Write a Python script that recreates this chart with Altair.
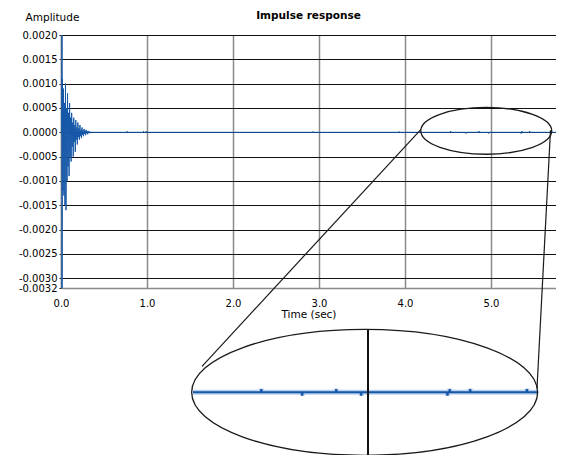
import altair as alt
import pandas as pd

# ---------------- data ----------------
# direct-sound spike
head_t = [0.0, 0.008, 0.011, 0.012]
head_a = [0.0, 0.0, 0.0020, -0.0032]
# early ringing, one sample every 6 ms from 16 ms (values in 1e-4)
ring_t0 = 0.016
ring_dt = 0.006
ring_a_e4 = [11, -12, 9, -13, 6, -15, 10, -16, 5, -10, 8, -7, 4, -9, 6, -5,
             3, -6, 4, -3, 2, -5, 3, -2, 1.5, -4, 2.5, -1.5, 1, -2.5, 2, -1,
             0.8, -1.5, 1.5, -0.8, 0.5, -1.2, 1, -0.5, 0.4, -0.8, 0.7, -0.3,
             0.3, -0.6, 0.5, -0.2, 0.2, -0.4, 0.3, -0.1, 0.1, -0.2, 0.15, -0.1,
             0.05, 0]
# tiny late reflections (values in 1e-5)
blip_t = [0.77, 0.96, 0.99, 2.93, 3.93, 4.53, 4.71, 4.86, 4.97, 5.35, 5.36, 5.45, 5.70]
blip_a_e5 = [2, 2, 2, 1.5, 1.5, 2.5, -2.5, 2.5, -2.5, -2.5, 2.5, 2.5, 2.5]
blip_half = 0.003
window_t = [4.229, 5.749]      # magnified window
end_t = 5.756

x_ticks = [0, 1, 2, 3, 4, 5]
y_ticks = [0.0020, 0.0015, 0.0010, 0.0005, 0.0, -0.0005, -0.0010, -0.0015,
           -0.0020, -0.0025, -0.0030, -0.0032]

# magnifier annotation (data units of the main axes)
zoom_factor = 2.64
zoom_ref_t = 5.0          # grid line shown in the magnifier
inset_ref_t = 3.57        # where that grid line is drawn in the magnifier
inset_center_a = -0.005344
inset_line_a = [-0.00405, -0.00664]
ellipse_t = [4.945, 3.531]
ellipse_a = [0.00003, -0.005344]
ellipse_size = [17161, 119716]
ellipse_shape = [
    "M-1,0C-1,-0.197 -0.552,-0.357 0,-0.357C0.552,-0.357 1,-0.197 1,0C1,0.197 0.552,0.357 0,0.357C-0.552,0.357 -1,0.197 -1,0Z",
    "M-1,0C-1,-0.201 -0.552,-0.364 0,-0.364C0.552,-0.364 1,-0.201 1,0C1,0.201 0.552,0.364 0,0.364C-0.552,0.364 -1,0.201 -1,0Z",
]
conn_t = [4.186, 5.692]
conn_a = [0.0000617, 0.0000411]
conn_t2 = [1.640, 5.535]
conn_a2 = [-0.00481, -0.00526]

# ---------------- tables ----------------
rows = list(zip(head_t, head_a))
rows += [(ring_t0 + i * ring_dt, v * 1e-4) for i, v in enumerate(ring_a_e4)]
for t, v in zip(blip_t, blip_a_e5):
    rows += [(t - blip_half, 0.0), (t, v * 1e-5), (t + blip_half, 0.0)]
rows += [(w, 0.0) for w in window_t] + [(end_t, 0.0)]
wave = pd.DataFrame(rows, columns=["t", "a"]).sort_values("t").reset_index(drop=True)

inset = wave[(wave.t >= window_t[0]) & (wave.t <= window_t[1])].copy()
inset["t"] = inset_ref_t + (inset["t"] - zoom_ref_t) * zoom_factor
inset["a"] = inset_center_a + inset["a"] * zoom_factor

ell = pd.DataFrame({"t": ellipse_t, "a": ellipse_a, "size": ellipse_size, "shape": ellipse_shape})
conn = pd.DataFrame({"t": conn_t, "a": conn_a, "t2": conn_t2, "a2": conn_a2})
vline = pd.DataFrame({"t": [inset_ref_t], "a": [inset_line_a[0]], "a2": [inset_line_a[1]]})

FONT = "DejaVu Sans"
BLUE = "#1557a8"

xs = alt.Scale(domain=[0, end_t], nice=False, zero=False)
ys = alt.Scale(domain=[-0.0032, 0.0020], nice=False, zero=False)

x_axis = alt.Axis(
    values=x_ticks, format=".1f", title="Time (sec)", grid=True,
    gridColor="#8a8a8a", gridWidth=1.5, ticks=False, labelPadding=10,
    labelFlush=False, domainColor="#8a8a8a", domainWidth=1.5,
    titleY=26, titleBaseline="middle", labelFont=FONT, titleFont=FONT,
    labelFontSize=10, titleFontSize=10.5, titleFontWeight="normal",
    labelColor="#000", titleColor="#000")
y_axis = alt.Axis(
    values=y_ticks, format=".4f", title="Amplitude", grid=True,
    gridColor="#111", gridWidth=1, ticks=True, tickSize=2, tickColor="#111",
    labelPadding=2, labelOverlap=False, labelFlush=False,
    labelExpr="replace(datum.label, '\u2212', '-')",
    domainColor="#8a8a8a", domainWidth=1.5,
    titleAngle=0, titleAlign="center", titleBaseline="middle",
    titleX=-9, titleY=-18, labelFont=FONT, titleFont=FONT,
    labelFontSize=10, titleFontSize=10.5, titleFontWeight="normal",
    labelColor="#000", titleColor="#000")

X = lambda f="t": alt.X(f"{f}:Q", scale=xs, axis=x_axis)
Y = lambda f="a": alt.Y(f"{f}:Q", scale=ys, axis=y_axis)

main = alt.Chart(wave).mark_line(color=BLUE, strokeWidth=1, clip=True).encode(x=X(), y=Y())

ellipses = alt.Chart(ell).mark_point(filled=False, stroke="#1a1a1a", strokeWidth=1.3, opacity=1).encode(
    x=X(), y=Y(),
    size=alt.Size("size:Q", scale=None, legend=None),
    shape=alt.Shape("shape:N", scale=None, legend=None),
)

connectors = alt.Chart(conn).mark_rule(color="#1a1a1a", strokeWidth=1.2).encode(
    x=X(), y=Y(), x2="t2:Q", y2="a2:Q",
)

inset_grid = alt.Chart(vline).mark_rule(color="#111", strokeWidth=2).encode(
    x=X(), y=Y(), y2="a2:Q",
)

inset_halo = alt.Chart(inset).mark_line(color="#b9cfee", strokeWidth=5).encode(x=X(), y=Y())
inset_line = alt.Chart(inset).mark_line(color=BLUE, strokeWidth=2).encode(x=X(), y=Y())

chart = alt.layer(main, connectors, inset_halo, inset_line, inset_grid, ellipses).properties(
    width=495, height=253,
    autosize=alt.AutoSizeParams(type="none"),
    padding={"left": 53, "top": 27, "right": 0, "bottom": 167},
    title=alt.TitleParams("Impulse response", anchor="middle", font=FONT, fontSize=10.5,
                          fontWeight="bold", color="#000", offset=4, dy=13),
).configure_view(stroke=None).configure(background="white")

chart.save("out.html", embed_options={"renderer": "svg", "actions": False})
